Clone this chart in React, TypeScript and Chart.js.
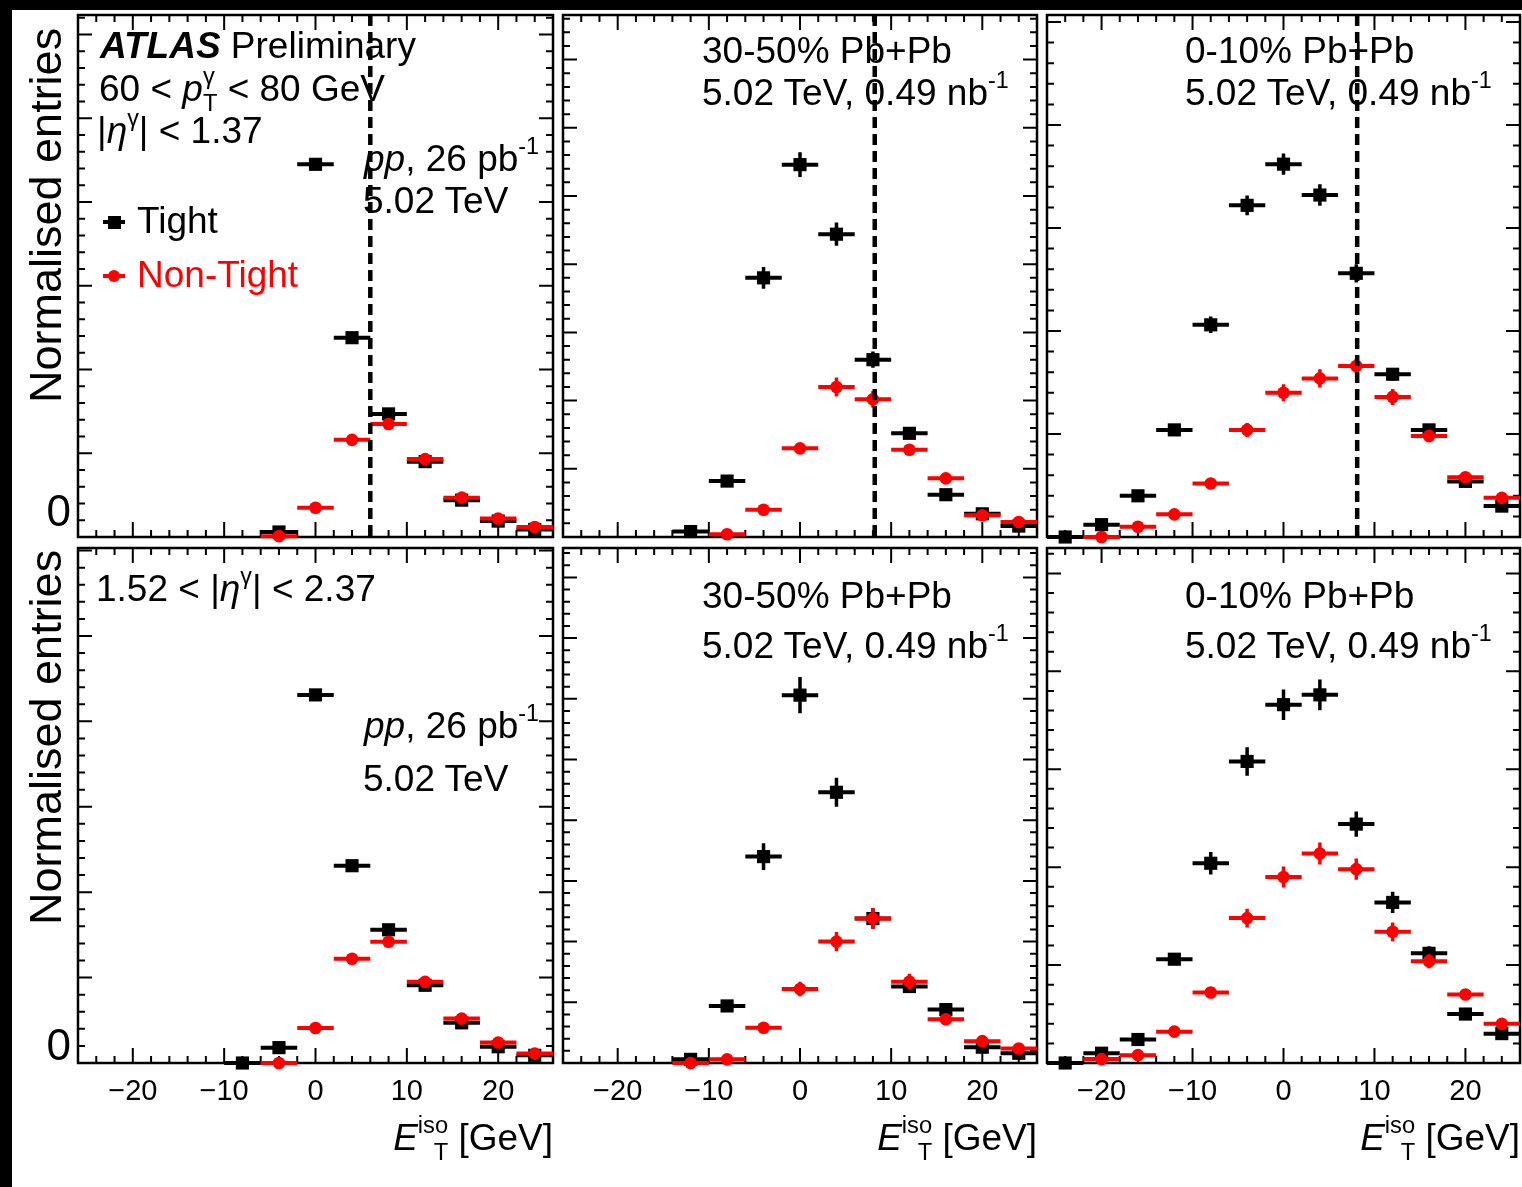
import React, { useEffect, useRef } from 'react';
import { Chart, registerables } from 'chart.js';

Chart.register(...registerables);

const FONT = '"Liberation Sans", Arial, Helvetica, sans-serif';
Chart.defaults.font.family = FONT;

// ---------------- data ----------------
const N = null;
const binCenters = [-24, -20, -16, -12, -8, -4, 0, 4, 8, 12, 16, 20, 24];
const binHalfWidth = 2;
const xMajorTicks = [-20, -10, 0, 10, 20];
const xMin = -26;
const xMax = 26;
const isolationCuts = [6.0, 8.2, 8.1];

// |eta| < 1.37, pp
const tightPPCentral = [N, N, N, N, N, 0.006, 0.445, 0.238, 0.147, 0.09, 0.044, 0.019, 0.009];
const tightPPCentralErr = [N, N, N, N, N, 0.003, 0.004, 0.003, 0.003, 0.002, 0.002, 0.001, 0.001];
const nonTightPPCentral = [N, N, N, N, N, 0.001, 0.035, 0.116, 0.135, 0.093, 0.047, 0.022, 0.012];
const nonTightPPCentralErr = [N, N, N, N, N, 0.002, 0.002, 0.003, 0.003, 0.003, 0.002, 0.002, 0.001];

// |eta| < 1.37, 30-50% Pb+Pb
const tightMidCentral = [N, N, N, 0.004, 0.041, 0.19, 0.273, 0.222, 0.13, 0.076, 0.031, 0.017, 0.008];
const tightMidCentralErr = [N, N, N, 0.002, 0.003, 0.008, 0.009, 0.0085, 0.006, 0.004, 0.003, 0.002, 0.002];
const nonTightMidCentral = [N, N, N, N, 0.002, 0.02, 0.065, 0.11, 0.101, 0.064, 0.043, 0.016, 0.011];
const nonTightMidCentralErr = [N, N, N, N, 0.002, 0.003, 0.004, 0.007, 0.006, 0.004, 0.003, 0.002, 0.002];

// |eta| < 1.37, 0-10% Pb+Pb
const tightCentCentral = [0.0, 0.006, 0.02, 0.052, 0.103, 0.161, 0.181, 0.166, 0.128, 0.079, 0.052, 0.027, 0.015];
const tightCentCentralErr = [0.001, 0.0015, 0.002, 0.0025, 0.004, 0.0048, 0.0052, 0.0052, 0.0044, 0.003, 0.0025, 0.002, 0.0015];
const nonTightCentCentral = [N, 0.0, 0.005, 0.011, 0.026, 0.052, 0.07, 0.077, 0.083, 0.068, 0.049, 0.029, 0.019];
const nonTightCentCentralErr = [N, 0.001, 0.0015, 0.0015, 0.002, 0.0034, 0.0041, 0.0044, 0.0034, 0.0039, 0.003, 0.002, 0.0015];

// 1.52 < |eta| < 2.37, pp
const tightPPForward = [N, N, N, N, 0.0, 0.018, 0.431, 0.231, 0.156, 0.091, 0.047, 0.019, 0.009];
const tightPPForwardErr = [N, N, N, N, 0.002, 0.003, 0.005, 0.004, 0.003, 0.003, 0.002, 0.002, 0.001];
const nonTightPPForward = [N, N, N, N, N, 0.0, 0.041, 0.122, 0.142, 0.095, 0.052, 0.024, 0.011];
const nonTightPPForwardErr = [N, N, N, N, N, 0.002, 0.003, 0.004, 0.004, 0.003, 0.003, 0.002, 0.002];

// 1.52 < |eta| < 2.37, 30-50% Pb+Pb
const tightMidForward = [N, N, N, 0.003, 0.047, 0.17, 0.303, 0.223, 0.119, 0.063, 0.044, 0.013, 0.008];
const tightMidForwardErr = [N, N, N, 0.002, 0.004, 0.011, 0.015, 0.012, 0.0085, 0.005, 0.004, 0.003, 0.002];
const nonTightMidForward = [N, N, N, 0.0, 0.003, 0.029, 0.061, 0.1, 0.119, 0.067, 0.036, 0.018, 0.012];
const nonTightMidForwardErr = [N, N, N, 0.001, 0.002, 0.004, 0.006, 0.008, 0.0085, 0.0065, 0.004, 0.003, 0.002];

// 1.52 < |eta| < 2.37, 0-10% Pb+Pb
const tightCentForward = [0.0, 0.005, 0.012, 0.053, 0.102, 0.154, 0.183, 0.188, 0.122, 0.082, 0.056, 0.025, 0.015];
const tightCentForwardErr = [0.001, 0.0015, 0.002, 0.003, 0.0058, 0.0073, 0.0078, 0.0079, 0.0064, 0.0054, 0.0036, 0.002, 0.002];
const nonTightCentForward = [N, 0.002, 0.004, 0.016, 0.036, 0.074, 0.095, 0.107, 0.099, 0.067, 0.052, 0.035, 0.02];
const nonTightCentForwardErr = [N, 0.001, 0.0015, 0.002, 0.0026, 0.0048, 0.0054, 0.0056, 0.0054, 0.0048, 0.0036, 0.0026, 0.002];

// ---------------- layout ----------------
type Series = (number | null)[];
interface PanelSpec {
  id: string;
  L: number; T: number; R: number; B: number;
  yMax: number; yMinor: number;
  tight: Series; tightErr: Series; nonTight: Series; nonTightErr: Series;
  cut: number | null;
  yLabel: boolean; xLabels: boolean; zeroOffset: number;
}

const PAD_L = 70, PAD_T = 12, PAD_R = 12, PAD_B = 12, X_AXIS_H = 50;
const TOP_T = 15, TOP_B = 537, BOT_T = 548, BOT_B = 1063;
const COLS = [[78, 553], [563, 1037], [1047, 1520]];
const TXT = 37;

const panels: PanelSpec[] = [
  { id: 'p1', L: COLS[0][0], R: COLS[0][1], T: TOP_T, B: TOP_B, yMax: 0.6233, yMinor: 0.02,
    tight: tightPPCentral, tightErr: tightPPCentralErr, nonTight: nonTightPPCentral, nonTightErr: nonTightPPCentralErr,
    cut: isolationCuts[0], yLabel: true, xLabels: false, zeroOffset: -23 },
  { id: 'p2', L: COLS[1][0], R: COLS[1][1], T: TOP_T, B: TOP_B, yMax: 0.3827, yMinor: 0.01,
    tight: tightMidCentral, tightErr: tightMidCentralErr, nonTight: nonTightMidCentral, nonTightErr: nonTightMidCentralErr,
    cut: isolationCuts[1], yLabel: false, xLabels: false, zeroOffset: 0 },
  { id: 'p3', L: COLS[2][0], R: COLS[2][1], T: TOP_T, B: TOP_B, yMax: 0.2534, yMinor: 0.01,
    tight: tightCentCentral, tightErr: tightCentCentralErr, nonTight: nonTightCentCentral, nonTightErr: nonTightCentCentralErr,
    cut: isolationCuts[2], yLabel: false, xLabels: false, zeroOffset: 0 },
  { id: 'p4', L: COLS[0][0], R: COLS[0][1], T: BOT_T, B: BOT_B, yMax: 0.603, yMinor: 0.02,
    tight: tightPPForward, tightErr: tightPPForwardErr, nonTight: nonTightPPForward, nonTightErr: nonTightPPForwardErr,
    cut: null, yLabel: true, xLabels: true, zeroOffset: -15 },
  { id: 'p5', L: COLS[1][0], R: COLS[1][1], T: BOT_T, B: BOT_B, yMax: 0.4242, yMinor: 0.01,
    tight: tightMidForward, tightErr: tightMidForwardErr, nonTight: nonTightMidForward, nonTightErr: nonTightMidForwardErr,
    cut: null, yLabel: false, xLabels: true, zeroOffset: 0 },
  { id: 'p6', L: COLS[2][0], R: COLS[2][1], T: BOT_T, B: BOT_B, yMax: 0.263, yMinor: 0.01,
    tight: tightCentForward, tightErr: tightCentForwardErr, nonTight: nonTightCentForward, nonTightErr: nonTightCentForwardErr,
    cut: null, yLabel: false, xLabels: true, zeroOffset: 0 },
];

const RED = '#ff0000';
const BLACK = '#000000';

function hSegments(vals: Series) {
  const pts: { x: number; y: number | null }[] = [];
  binCenters.forEach((x, i) => {
    const y = vals[i];
    if (y === null) return;
    pts.push({ x: x - binHalfWidth, y }, { x: x + binHalfWidth, y }, { x, y: null });
  });
  return pts;
}
function vSegments(vals: Series, errs: Series) {
  const pts: { x: number; y: number | null }[] = [];
  binCenters.forEach((x, i) => {
    const y = vals[i];
    const e = errs[i];
    if (y === null || e === null) return;
    pts.push({ x, y: y - e }, { x, y: y + e }, { x, y: null });
  });
  return pts;
}
function markers(vals: Series) {
  const pts: { x: number; y: number }[] = [];
  binCenters.forEach((x, i) => {
    const y = vals[i];
    if (y !== null) pts.push({ x, y });
  });
  return pts;
}

const rootAxesPlugin = {
  id: 'rootAxes',
  beforeDatasetsDraw(chart: any, _args: any, opts: any) {
    const { ctx, chartArea: a, scales } = chart;
    const xs = scales.x;
    const ys = scales.y;
    ctx.save();
    ctx.strokeStyle = '#000';
    ctx.lineCap = 'butt';
    ctx.lineWidth = 2;
    ctx.beginPath();
    for (let k = Math.ceil(xMin / 2); k * 2 <= xMax; k++) {
      const v = k * 2;
      if (v <= xMin || v >= xMax) continue;
      const px = xs.getPixelForValue(v);
      const len = v % 10 === 0 ? 15 : 7;
      ctx.moveTo(px, a.bottom); ctx.lineTo(px, a.bottom - len);
      ctx.moveTo(px, a.top); ctx.lineTo(px, a.top + len);
    }
    const minor = opts.yMinor;
    for (let k = 1; k * minor <= ys.max + 1e-9; k++) {
      const py = ys.getPixelForValue(k * minor);
      const len = k % 5 === 0 ? 14 : 7;
      ctx.moveTo(a.left, py); ctx.lineTo(a.left + len, py);
      ctx.moveTo(a.right, py); ctx.lineTo(a.right - len, py);
    }
    ctx.stroke();
    ctx.lineWidth = 2.5;
    ctx.strokeRect(a.left, a.top, a.right - a.left, a.bottom - a.top);
    ctx.restore();
  },
};

const fmtX = (v: number) => (v < 0 ? '\u2212' + Math.abs(v) : String(v));

function Panel({ spec }: { spec: PanelSpec }) {
  const ref = useRef<HTMLCanvasElement>(null);
  const cw = spec.R - spec.L + PAD_L + PAD_R;
  const ch = spec.B - spec.T + PAD_T + PAD_B + (spec.xLabels ? X_AXIS_H : 0);
  useEffect(() => {
    const datasets: any[] = [
      { type: 'scatter', data: hSegments(spec.tight), showLine: true, borderColor: BLACK, borderWidth: 4,
        pointRadius: 0, borderCapStyle: 'butt', clip: false, order: 5 },
      { type: 'scatter', data: vSegments(spec.tight, spec.tightErr), showLine: true, borderColor: BLACK, borderWidth: 3.5,
        pointRadius: 0, borderCapStyle: 'butt', clip: false, order: 5 },
      { type: 'scatter', data: markers(spec.tight), pointStyle: 'rect', pointRadius: 9.3, backgroundColor: BLACK,
        borderWidth: 0, clip: false, order: 4 },
      { type: 'scatter', data: hSegments(spec.nonTight), showLine: true, borderColor: RED, borderWidth: 4,
        pointRadius: 0, borderCapStyle: 'butt', clip: false, order: 3 },
      { type: 'scatter', data: vSegments(spec.nonTight, spec.nonTightErr), showLine: true, borderColor: RED, borderWidth: 3.5,
        pointRadius: 0, borderCapStyle: 'butt', clip: false, order: 3 },
      { type: 'scatter', data: markers(spec.nonTight), pointStyle: 'circle', pointRadius: 6.3, backgroundColor: RED,
        borderWidth: 0, clip: false, order: 2 },
    ];
    if (spec.cut !== null) {
      datasets.push({ type: 'scatter', data: [{ x: spec.cut, y: spec.yMax }, { x: spec.cut, y: 0 }], showLine: true,
        borderColor: BLACK, borderWidth: 4.5, borderDash: [11, 6], pointRadius: 0, borderCapStyle: 'butt', clip: false, order: 1 });
    }
    const xScale: any = {
      type: 'linear', min: xMin, max: xMax, display: spec.xLabels, position: 'bottom',
      grid: { display: false, drawTicks: false }, border: { display: false },
      ticks: { font: { size: 29, family: FONT }, color: '#000', padding: 12, maxRotation: 0, minRotation: 0, autoSkip: false,
        callback: (v: any) => fmtX(Number(v)) },
      afterBuildTicks: (s: any) => { s.ticks = xMajorTicks.map((v) => ({ value: v })); },
    };
    if (spec.xLabels) xScale.afterFit = (s: any) => { s.height = X_AXIS_H; s.paddingLeft = 0; s.paddingRight = 0; };
    const yScale: any = {
      type: 'linear', min: 0, max: spec.yMax, display: spec.yLabel, position: 'left',
      grid: { display: false, drawTicks: false }, border: { display: false },
      ticks: { font: { size: 44, family: FONT }, color: '#000', padding: 7, labelOffset: spec.zeroOffset,
        callback: () => '0' },
      afterBuildTicks: (s: any) => { s.ticks = [{ value: 0 }]; },
    };
    if (spec.yLabel) yScale.afterFit = (s: any) => { s.width = PAD_L; s.paddingTop = 0; s.paddingBottom = 0; };

    const chart = new Chart(ref.current as HTMLCanvasElement, {
      type: 'scatter',
      data: { datasets },
      options: {
        responsive: false,
        animation: false,
        devicePixelRatio: 1,
        layout: { padding: { left: spec.yLabel ? 0 : PAD_L, top: PAD_T, right: PAD_R, bottom: PAD_B } },
        scales: { x: xScale, y: yScale },
        plugins: {
          legend: { display: false },
          tooltip: { enabled: false },
          rootAxes: { yMinor: spec.yMinor },
        } as any,
        events: [],
      } as any,
      plugins: [rootAxesPlugin],
    });
    return () => chart.destroy();
  }, []);
  return (
    <canvas ref={ref} width={cw} height={ch}
      style={{ position: 'absolute', left: spec.L - PAD_L, top: spec.T - PAD_T, width: cw, height: ch }} />
  );
}

// ---------------- text helpers ----------------
function Txt({ x, base, size = TXT, color = '#000', children }: any) {
  return (
    <div style={{ position: 'absolute', left: x, top: base - 0.8465 * size, fontSize: size, lineHeight: `${size}px`,
      color, whiteSpace: 'nowrap', fontFamily: FONT }}>{children}</div>
  );
}
function Sup({ children }: any) {
  return <span style={{ position: 'relative', top: '-0.7em', fontSize: '0.63em', lineHeight: 0 }}>{children}</span>;
}
function SupSub({ sup, sub }: any) {
  return (
    <span style={{ display: 'inline-grid', fontSize: '0.64em', lineHeight: 1, verticalAlign: 'baseline' }}>
      <span style={{ gridArea: '1 / 1', position: 'relative', top: '-0.72em' }}>{sup}</span>
      <span style={{ gridArea: '1 / 1', position: 'relative', top: '0.45em' }}>{sub}</span>
    </span>
  );
}
function YTitle({ top }: { top: number }) {
  return (
    <div style={{ position: 'absolute', left: 23, top, height: 420, width: 45, writingMode: 'vertical-rl',
      transform: 'rotate(180deg)', fontSize: 45, lineHeight: '45px', textAlign: 'end', whiteSpace: 'nowrap', fontFamily: FONT }}>
      Normalised entries
    </div>
  );
}
function XTitle({ right }: { right: number }) {
  return (
    <div style={{ position: 'absolute', left: right - 400, width: 400, top: 1150 - 0.8465 * TXT, fontSize: TXT,
      lineHeight: `${TXT}px`, textAlign: 'right', whiteSpace: 'nowrap', fontFamily: FONT }}>
      <i>E</i><SupSub sup="iso" sub="T" /> [GeV]
    </div>
  );
}

export default function App() {
  return (
    <div style={{ position: 'absolute', left: 0, top: 0, width: 1522, height: 1187, background: '#fff', overflow: 'hidden',
      fontFamily: FONT }}>
      {panels.map((p) => <Panel key={p.id} spec={p} />)}

      {/* panel 1 */}
      <Txt x={100} base={58}><b><i>ATLAS</i></b> Preliminary</Txt>
      <Txt x={99} base={101}>60 &lt; <i>p</i><SupSub sup="γ" sub="T" /> &lt; 80 GeV</Txt>
      <Txt x={97} base={143}>|<i>η</i><Sup>γ</Sup>| &lt; 1.37</Txt>
      <Txt x={364} base={171}><i>pp</i>, 26 pb<Sup>-1</Sup></Txt>
      <Txt x={363} base={213}>5.02 TeV</Txt>
      <div style={{ position: 'absolute', left: 103, top: 220, width: 22, height: 4, background: BLACK }} />
      <div style={{ position: 'absolute', left: 107.5, top: 215.5, width: 13, height: 13, background: BLACK }} />
      <Txt x={137} base={233}>Tight</Txt>
      <div style={{ position: 'absolute', left: 103, top: 274, width: 22, height: 4, background: RED }} />
      <div style={{ position: 'absolute', left: 107.7, top: 269.7, width: 12.6, height: 12.6, borderRadius: '50%', background: RED }} />
      <Txt x={137} base={287} color={RED}>Non-Tight</Txt>

      {/* panel 2, 3 */}
      <Txt x={702} base={63}>30-50% Pb+Pb</Txt>
      <Txt x={702} base={105}>5.02 TeV, 0.49 nb<Sup>-1</Sup></Txt>
      <Txt x={1185} base={63}>0-10% Pb+Pb</Txt>
      <Txt x={1185} base={105}>5.02 TeV, 0.49 nb<Sup>-1</Sup></Txt>

      {/* panel 4 */}
      <Txt x={96} base={601}>1.52 &lt; |<i>η</i><Sup>γ</Sup>| &lt; 2.37</Txt>
      <Txt x={364} base={738}><i>pp</i>, 26 pb<Sup>-1</Sup></Txt>
      <Txt x={363} base={791}>5.02 TeV</Txt>

      {/* panel 5, 6 */}
      <Txt x={702} base={608}>30-50% Pb+Pb</Txt>
      <Txt x={702} base={658}>5.02 TeV, 0.49 nb<Sup>-1</Sup></Txt>
      <Txt x={1185} base={608}>0-10% Pb+Pb</Txt>
      <Txt x={1185} base={658}>5.02 TeV, 0.49 nb<Sup>-1</Sup></Txt>

      <YTitle top={28} />
      <YTitle top={550} />
      {COLS.map((c, i) => <XTitle key={i} right={c[1]} />)}

      <div style={{ position: 'absolute', left: 0, top: 0, width: 1522, height: 10, background: '#000' }} />
      <div style={{ position: 'absolute', left: 0, top: 0, width: 12, height: 1187, background: '#000' }} />
    </div>
  );
}
